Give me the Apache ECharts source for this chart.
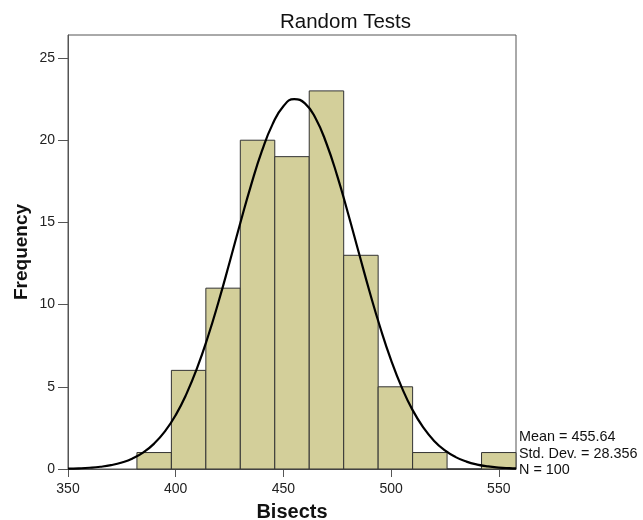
<!DOCTYPE html>
<html><head><meta charset="utf-8">
<script src="https://cdn.jsdelivr.net/npm/echarts@6/dist/echarts.min.js"></script>
<style>html,body{margin:0;padding:0;background:#fff}#c{width:643px;height:520px}</style>
</head><body><div id="c"></div>
<script>
var binStarts = [382, 398, 414, 430, 446, 462, 478, 494, 510, 526, 542];
var binEnds   = [398, 414, 430, 446, 462, 478, 494, 510, 526, 542, 558];
var counts    = [1, 6, 11, 20, 19, 23, 13, 5, 1, 0, 1];
var curveX = [350,355,360,365,370,375,380,385,390,395,400,405,410,415,420,425,430,435,440,445,450,455,460,465,470,475,480,485,490,495,500,505,510,515,520,525,530,535,540,545,550,555,558];
var curveY = [0.022,0.041,0.076,0.136,0.235,0.395,0.642,1.011,1.545,2.287,3.28,4.57,6.16,8.06,10.22,12.56,14.96,17.27,19.33,20.98,22.07,22.50,22.24,21.32,19.80,17.83,15.56,13.17,10.80,8.59,6.62,4.95,3.58,2.52,1.71,1.131,0.723,0.448,0.269,0.157,0.089,0.049,0.033];
var xTicks = [350, 400, 450, 500, 550];
var yTicks = [0, 5, 10, 15, 20, 25];
var statsLines = ['Mean = 455.64', 'Std. Dev. = 28.356', 'N = 100'];

var chart = echarts.init(document.getElementById('c'));
var font = 'Liberation Sans, Arial, sans-serif';
var barData = binStarts.map(function (s, i) { return [s, binEnds[i], counts[i]]; });
chart.setOption({
  animation: false,
  title: { text: 'Random Tests', left: 275, top: 7, textStyle: { fontFamily: font, fontSize: 20.5, fontWeight: 'normal', color: '#111' } },
  grid: { left: 68, right: 127, top: 35, bottom: 51, show: true, borderColor: '#555', borderWidth: 1, outerBoundsMode: 'none', containLabel: false },
  xAxis: {
    type: 'value', min: 350, max: 558, interval: 50,
    name: 'Bisects', nameLocation: 'middle', nameGap: 33, nameMoveOverlap: false,
    nameTextStyle: { fontFamily: font, fontSize: 20, fontWeight: 'bold', color: '#111' },
    axisLine: { show: true, lineStyle: { color: '#555' } },
    axisTick: { show: true, inside: false, length: 8, lineStyle: { color: '#555' }, customValues: xTicks },
    axisLabel: { fontFamily: font, fontSize: 14, color: '#222', margin: 13, customValues: xTicks },
    splitLine: { show: false }
  },
  yAxis: {
    type: 'value', min: 0, max: 26.4, interval: 5,
    name: 'Frequency', nameLocation: 'middle', nameGap: 37, nameRotate: 90, nameMoveOverlap: false,
    nameTextStyle: { fontFamily: font, fontSize: 19, fontWeight: 'bold', color: '#111' },
    axisLine: { show: true, lineStyle: { color: '#555' } },
    axisTick: { show: true, inside: false, length: 10, lineStyle: { color: '#555' }, customValues: yTicks },
    axisLabel: { fontFamily: font, fontSize: 14, color: '#222', margin: 13, customValues: yTicks },
    splitLine: { show: false }
  },
  series: [
    {
      type: 'custom',
      data: barData,
      renderItem: function (params, api) {
        var p0 = api.coord([api.value(0), 0]);
        var p1 = api.coord([api.value(1), api.value(2)]);
        return {
          type: 'rect',
          shape: { x: p0[0], y: p1[1], width: p1[0] - p0[0], height: p0[1] - p1[1] },
          style: { fill: '#d3cf9a', stroke: '#333', lineWidth: 1 }
        };
      },
      z: 2
    },
    {
      type: 'line',
      data: curveX.map(function (x, i) { return [x, curveY[i]]; }),
      smooth: true, showSymbol: false,
      lineStyle: { color: '#000', width: 2.2 },
      z: 3
    }
  ],
  graphic: [{
    type: 'text', left: 519, top: 429,
    style: { text: statsLines.join('\n'), fontFamily: font, fontSize: 14.4, lineHeight: 16.5, fill: '#111' }
  }]
});
</script></body></html>
